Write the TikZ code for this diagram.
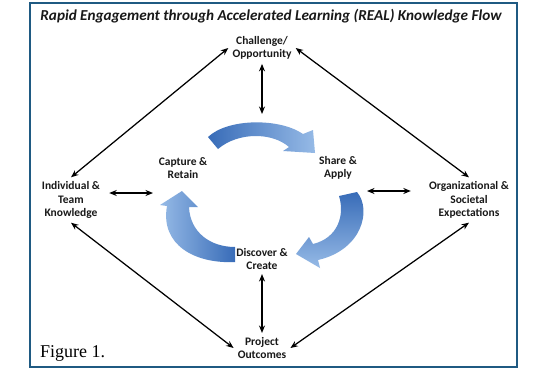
\documentclass[tikz,border=0pt]{standalone}
\usepackage{fontspec}
\setmainfont{Carlito}
\newfontfamily\figfont{Liberation Serif}
\usepackage{tikz}
\usetikzlibrary{arrows.meta,calc}
\definecolor{framecol}{RGB}{31,90,130}
\definecolor{cycdark}{RGB}{56,108,184}
\definecolor{cyclight}{RGB}{150,186,230}

\begin{document}
\begin{tikzpicture}[x=1pt,y=-1pt,
  every node/.style={font=\fontsize{11.5}{13.5}\selectfont\bfseries, align=center, inner sep=4pt, text=black!90},
  link/.style={{Stealth[length=7.5pt,width=6pt]}-{Stealth[length=7.5pt,width=6pt]}, line width=1.25pt}
]
  \useasboundingbox (0,0) rectangle (540,370);
  \fill[white] (0,0) rectangle (540,370);
  \draw[framecol, line width=2.6pt] (30,3) rectangle (517,367);

  \node[font=\fontsize{15.2}{17}\selectfont\bfseries\itshape] (title) at (271,16)
    {Rapid Engagement through Accelerated Learning (REAL) Knowledge Flow};

  \node (chal) at (262,48) {Challenge/\\Opportunity};
  \node (cap) at (183,168) {Capture \&\\Retain};
  \node (share) at (338,168) {Share \&\\Apply};
  \node (ind) at (71,200) {Individual \&\\Team\\Knowledge};
  \node (org) at (469,200) {Organizational \&\\Societal\\Expectations};
  \node (disc) at (262,259) {Discover \&\\Create};
  \node (proj) at (262,348) {Project\\Outcomes};
  \node[anchor=base west, font=\figfont\fontsize{18}{20}\selectfont, text=black] (fig) at (36,357) {Figure 1.};

  \coordinate (cyctop) at (262,114);
  \coordinate (cycleft) at (153,193);
  \coordinate (cycright) at (367,191);

  \shade[left color=cycdark, right color=cyclight]
    (208,137) .. controls (228,118) and (280,118) .. (303,134) -- (313,130) -- (315,153)
    -- (283,151) -- (289,147) .. controls (272,132) and (238,132) .. (218,149) -- cycle;
  \shade[top color=cycdark, bottom color=cyclight]
    (357,192) .. controls (372,210) and (362,250) .. (318,260) -- (320,268) -- (296,254)
    -- (309,237) -- (313,244) .. controls (338,238) and (345,215) .. (339,196) -- cycle;
  \shade[left color=cyclight, right color=cycdark]
    (235,262) .. controls (195,264) and (160,245) .. (167,206) -- (160,205) -- (182,191)
    -- (198,207) -- (189,207) .. controls (190,232) and (210,247) .. (235,247) -- cycle;

  \draw[link] (chal) -- (cyctop);
  \draw[link] (chal.west) -- (ind.north);
  \draw[link] (chal.east) -- (org.north);
  \draw[link] (ind.south) -- (proj.west);
  \draw[link] (org.south) -- (proj.east);
  \draw[link] (disc) -- (proj);
  \draw[link] ([xshift=5pt]cycleft -| ind.east) -- (cycleft);
  \draw[link] (cycright) -- ([xshift=-14pt]cycright -| org.west);
\end{tikzpicture}
\end{document}
